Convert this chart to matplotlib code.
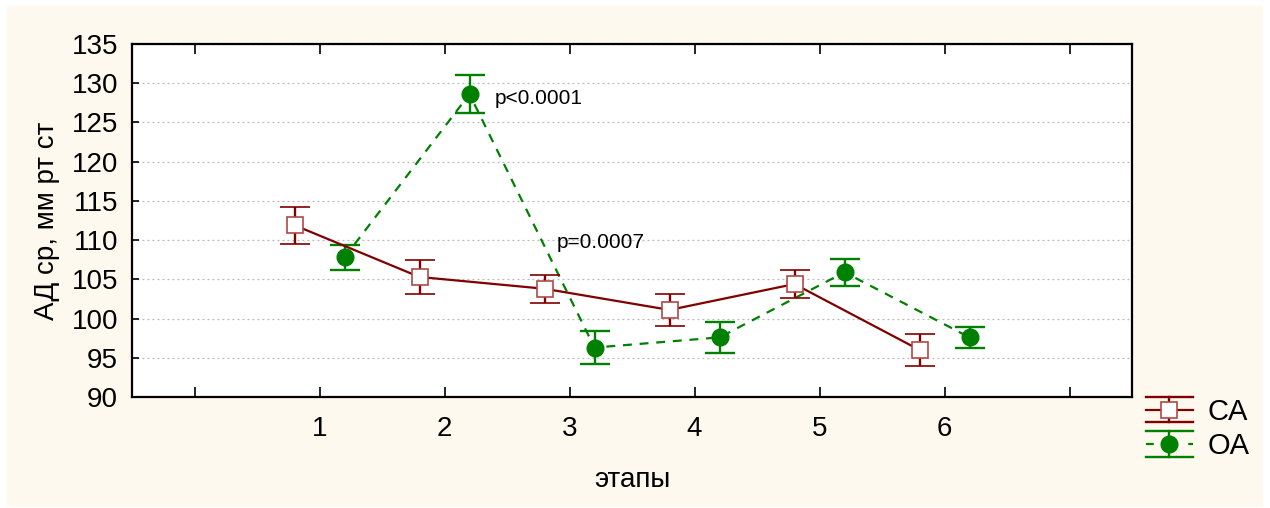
import matplotlib
matplotlib.use("Agg")
import matplotlib.pyplot as plt
from matplotlib.lines import Line2D
from matplotlib.patches import Rectangle
from matplotlib.legend_handler import HandlerBase
import numpy as np

# этапы и средние значения АД
stages = [1, 2, 3, 4, 5, 6]
ca_mean = [111.9, 105.3, 103.8, 101.1, 104.4, 96.0]
ca_err = [2.35, 2.2, 1.8, 2.05, 1.8, 2.0]
oa_mean = [107.8, 128.6, 96.3, 97.6, 105.9, 97.6]
oa_err = [1.55, 2.45, 2.15, 2.0, 1.7, 1.35]
p_labels = ["p<0.0001", "p=0.0007"]
p_pos = [(2.4, 128.1), (2.9, 109.7)]

CA_COL = "#800000"
OA_COL = "#008000"
BG = "#FDF9EE"

plt.rcParams['font.family'] = ['Liberation Sans', 'DejaVu Sans']


class HandlerCapped(HandlerBase):
    # legend glyph: wide caps top/bottom, stem, line and marker
    def create_artists(self, legend, orig_handle, xdescent, ydescent,
                       width, height, fontsize, trans):
        x0, x1 = -xdescent, -xdescent + width
        y0, y1 = -ydescent, -ydescent + height
        xm, ym = (x0 + x1) / 2, (y0 + y1) / 2
        c = orig_handle.get_color()
        dashed = orig_handle.get_linestyle() == '--'
        mid = Line2D([x0, x1], [ym, ym], color=c, lw=1.6)
        if dashed:
            mid.set_dashes((3.5, 6))
        arts = [
            Line2D([x0, x1], [y1, y1], color=c, lw=1.7),
            Line2D([x0, x1], [y0, y0], color=c, lw=1.7),
            Line2D([xm, xm], [y0, y1], color=c, lw=1.7),
            mid,
            Line2D([xm], [ym], linestyle='none',
                   marker=orig_handle.get_marker(),
                   markersize=orig_handle.get_markersize(),
                   markerfacecolor=orig_handle.get_markerfacecolor(),
                   markeredgecolor=orig_handle.get_markeredgecolor(),
                   markeredgewidth=orig_handle.get_markeredgewidth()),
        ]
        for a in arts:
            a.set_transform(trans)
        return arts


fig = plt.figure(figsize=(12.7, 5.08), dpi=100, facecolor='white')
fig.patches.append(Rectangle((7 / 1270, 1 / 508), 1256 / 1270, 501 / 508,
                             transform=fig.transFigure, facecolor=BG,
                             edgecolor='none', zorder=-10))
ax = fig.add_axes([132 / 1270, 111 / 508, 1000 / 1270, 353 / 508])
ax.set_facecolor('white')

x = np.array(stages)
oa = ax.errorbar(x + 0.2, oa_mean, yerr=oa_err, color=OA_COL, lw=1.6,
                 linestyle='--', dashes=(4, 3.5), marker='o', markersize=12,
                 markerfacecolor=OA_COL, markeredgecolor=OA_COL,
                 ecolor=OA_COL, elinewidth=1.7, capsize=10.5, capthick=1.7,
                 zorder=3)
ca = ax.errorbar(x - 0.2, ca_mean, yerr=ca_err, color=CA_COL, lw=1.6,
                 linestyle='-', marker='s', markersize=12,
                 markerfacecolor='white', markeredgecolor='#b04848',
                 markeredgewidth=1.2, ecolor=CA_COL, elinewidth=1.7,
                 capsize=10.5, capthick=1.7, zorder=4)

for txt, (px, py) in zip(p_labels, p_pos):
    ax.text(px, py, txt, fontsize=15, va='center', ha='left')

ax.set_xlim(-0.5, 7.5)
ax.set_ylim(90, 135)
ax.set_xticks(range(0, 8))
ax.set_xticklabels([''] + [str(s) for s in stages] + [''])
ax.set_yticks(range(90, 136, 5))
ax.tick_params(axis='x', direction='in', length=7, width=1.2, top=True,
               labelsize=20, pad=14)
ax.tick_params(axis='y', direction='in', length=5, width=1.2,
               labelsize=20, pad=10)
ax.yaxis.grid(True, linestyle=(0, (1.5, 2.5)), color='#b8b8b8', lw=0.9)
ax.set_axisbelow(True)
for s in ax.spines.values():
    s.set_linewidth(1.6)

ax.set_xlabel('этапы', fontsize=20, labelpad=18)
ax.set_ylabel('АД ср, мм рт ст', fontsize=20, labelpad=8)

ax.legend([ca[0], oa[0]], ['CA', 'OA'],
          handler_map={ca[0]: HandlerCapped(), oa[0]: HandlerCapped()},
          loc='upper left', bbox_to_anchor=(1014 / 1000, 0.0),
          frameon=False, fontsize=21, handlelength=1.6, handleheight=0.95,
          handletextpad=0.5, labelspacing=0.2, borderaxespad=0.0,
          borderpad=0.0)

fig.savefig('out.png', dpi=100, facecolor=fig.get_facecolor())
